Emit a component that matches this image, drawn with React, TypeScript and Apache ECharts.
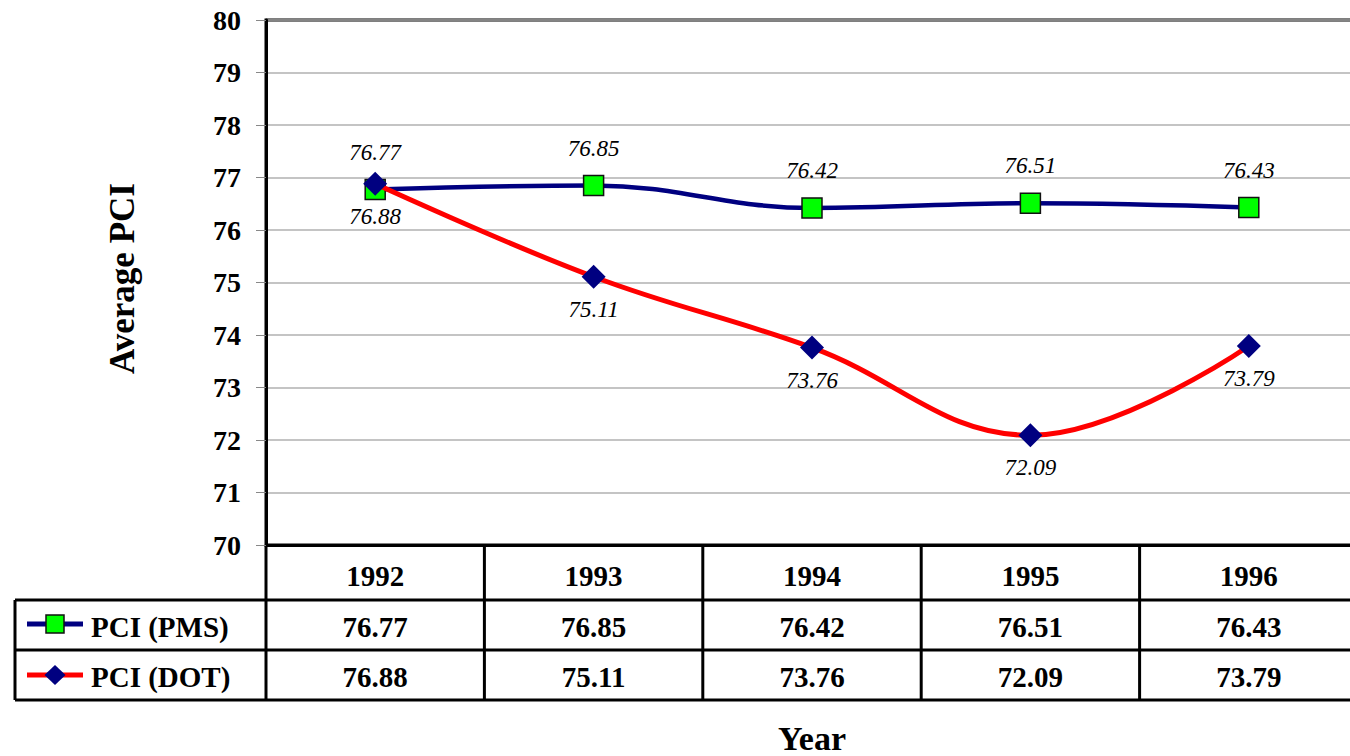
import React, { useEffect, useRef } from "react";
import * as echarts from "echarts";

const years = ["1992", "1993", "1994", "1995", "1996"];
const pmsValues = [76.77, 76.85, 76.42, 76.51, 76.43];
const dotValues = [76.88, 75.11, 73.76, 72.09, 73.79];
const seriesNames = ["PCI (PMS)", "PCI (DOT)"];
const yMin = 70;
const yMax = 80;
const yInterval = 1;

const FONT = "'Times New Roman', 'Liberation Serif', 'DejaVu Serif', serif";

export default function App() {
  const ref = useRef<HTMLDivElement>(null);

  useEffect(() => {
    document.body.style.margin = "0";
    const chart = echarts.init(ref.current!, null, { renderer: "svg", width: 1350, height: 756 });
    const option: any = {
      animation: false,
      backgroundColor: "#fff",
      textStyle: { fontFamily: FONT },
      grid: {
        left: 266,
        top: 20,
        width: 1092,
        height: 525,
        outerBoundsMode: "none",
        containLabel: false,
        show: true,
        borderColor: "#000",
        borderWidth: 3,
        backgroundColor: "transparent",
      },
      xAxis: {
        type: "category",
        data: years,
        boundaryGap: true,
        axisLine: { show: true, lineStyle: { color: "#000", width: 3 } },
        axisTick: { show: false },
        axisLabel: {
          color: "#000",
          fontFamily: FONT,
          fontWeight: "bold",
          fontSize: 29,
          lineHeight: 29,
          margin: 16,
        },
        name: "Year",
        nameLocation: "middle",
        nameGap: 176,
        nameTextStyle: {
          color: "#000",
          fontFamily: FONT,
          fontWeight: "bold",
          fontSize: 34,
          lineHeight: 34,
        },
        splitLine: { show: false },
      },
      yAxis: {
        type: "value",
        min: yMin,
        max: yMax,
        interval: yInterval,
        axisLine: { show: true, lineStyle: { color: "#000", width: 3 } },
        axisTick: { show: true, length: 10, lineStyle: { color: "#888", width: 1 } },
        axisLabel: {
          color: "#000",
          fontFamily: FONT,
          fontWeight: "bold",
          fontSize: 28,
          margin: 25,
        },
        splitLine: { show: true, lineStyle: { color: "#b0b0b0", width: 1.5 } },
        name: "Average PCI",
        nameLocation: "middle",
        nameRotate: 90,
        nameGap: 126,
        nameTextStyle: {
          color: "#000",
          fontFamily: FONT,
          fontWeight: "bold",
          fontSize: 35,
          padding: [0, 0, 0, 8],
        },
      },
      series: [
        {
          name: seriesNames[0],
          type: "line",
          data: pmsValues,
          smooth: 0.4,
          symbol: "rect",
          symbolSize: 20,
          lineStyle: { color: "#000080", width: 4.5 },
          itemStyle: { color: "#00ff00", borderColor: "#111", borderWidth: 1.5 },
          label: {
            show: true,
            position: "top",
            distance: 15,
            color: "#000",
            fontFamily: FONT,
            fontStyle: "italic",
            fontSize: 23,
            formatter: (p: any) => p.value.toFixed(2),
          },
          z: 2,
        },
        {
          name: seriesNames[1],
          type: "line",
          data: dotValues,
          smooth: 0.4,
          symbol: "diamond",
          symbolSize: 24,
          lineStyle: { color: "#ff0000", width: 5 },
          itemStyle: { color: "#000080", borderWidth: 0 },
          label: {
            show: true,
            position: "bottom",
            distance: 9,
            color: "#000",
            fontFamily: FONT,
            fontStyle: "italic",
            fontSize: 23,
            formatter: (p: any) => p.value.toFixed(2),
          },
          z: 3,
        },
      ],
    };
    chart.setOption(option);

    // Data table built from the axis scale
    const c0 = chart.convertToPixel({ xAxisIndex: 0 }, 0) as number;
    const c1 = chart.convertToPixel({ xAxisIndex: 0 }, 1) as number;
    const bw = c1 - c0;
    const yBase = chart.convertToPixel({ yAxisIndex: 0 }, yMin) as number;
    const headerH = 55;
    const rowH = 50;
    const tableLeft = 15;
    const rightEdge = 1360;
    const r1 = yBase + headerH;
    const r2 = r1 + rowH;
    const r3 = r2 + rowH;
    const lineStyle = { stroke: "#000", lineWidth: 3 };
    const g: any[] = [];
    [r1, r2, r3].forEach((y) =>
      g.push({ type: "line", shape: { x1: tableLeft, y1: y, x2: rightEdge, y2: y }, style: lineStyle })
    );
    g.push({ type: "line", shape: { x1: tableLeft, y1: r1, x2: tableLeft, y2: r3 }, style: lineStyle });
    for (let k = 0; k <= years.length; k++) {
      const x = c0 - bw / 2 + k * bw;
      g.push({ type: "line", shape: { x1: x, y1: yBase, x2: x, y2: r3 }, style: lineStyle });
    }
    const cellText = (x: number, y: number, t: string, align = "center") => ({
      type: "text",
      x,
      y,
      style: {
        text: t,
        fill: "#000",
        fontFamily: FONT,
        fontWeight: "bold",
        fontSize: 29,
        align,
        verticalAlign: "middle",
      },
    });
    const rows = [pmsValues, dotValues];
    rows.forEach((vals, ri) => {
      const yc = (ri === 0 ? r1 : r2) + rowH / 2 + 2;
      vals.forEach((v, i) => {
        const xc = chart.convertToPixel({ xAxisIndex: 0 }, i) as number;
        g.push(cellText(xc, yc, v.toFixed(2)));
      });
      g.push(cellText(91, yc, seriesNames[ri], "left"));
    });
    // legend keys
    const k1 = r1 + rowH / 2 - 1;
    const k2 = r2 + rowH / 2;
    g.push({ type: "line", shape: { x1: 27, y1: k1, x2: 83, y2: k1 }, style: { stroke: "#000080", lineWidth: 5 } });
    g.push({
      type: "rect",
      shape: { x: 55 - 9, y: k1 - 9, width: 18, height: 18 },
      style: { fill: "#00ff00", stroke: "#111", lineWidth: 1.5 },
    });
    g.push({ type: "line", shape: { x1: 27, y1: k2, x2: 83, y2: k2 }, style: { stroke: "#ff0000", lineWidth: 5 } });
    g.push({
      type: "polygon",
      shape: { points: [[55, k2 - 10], [65.5, k2], [55, k2 + 10], [44.5, k2]] },
      style: { fill: "#000080" },
    });
    chart.setOption({ graphic: g });

    return () => chart.dispose();
  }, []);

  return (
    <div
      ref={ref}
      style={{ position: "fixed", left: 0, top: 0, width: 1350, height: 756, overflow: "hidden" }}
    />
  );
}
